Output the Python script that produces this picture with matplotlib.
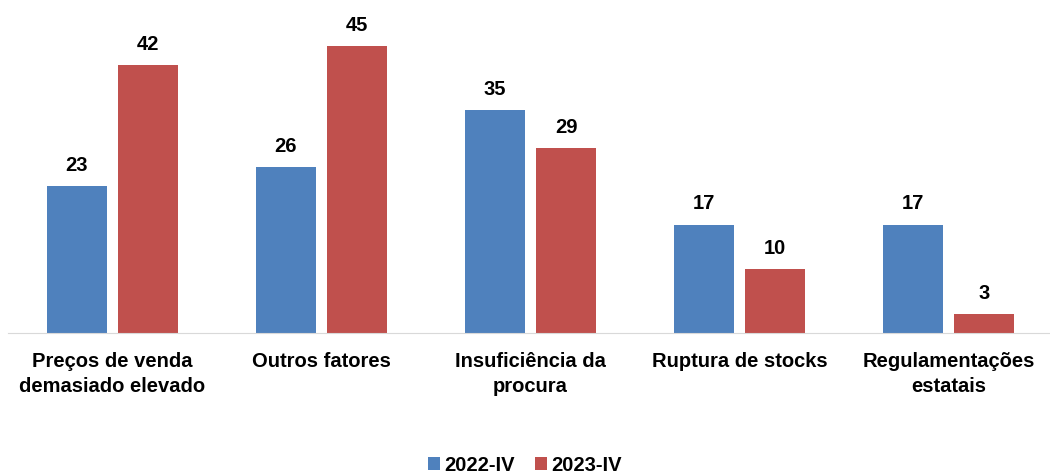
import numpy as np
import matplotlib.pyplot as plt

categories = ["Preços de venda\ndemasiado elevado", "Outros fatores",
              "Insuficiência da\nprocura", "Ruptura de stocks",
              "Regulamentações\nestatais"]
series_names = ["2022-IV", "2023-IV"]
vals_2022 = [23, 26, 35, 17, 17]
vals_2023 = [42, 45, 29, 10, 3]
colors = ["#4F81BD", "#C0504D"]

plt.rcParams['font.family'] = ['Liberation Sans', 'DejaVu Sans']
plt.rcParams['font.weight'] = 'bold'

fig = plt.figure(figsize=(10.5, 4.76), dpi=100)
ax = fig.add_axes([8/1050, 1-333/476, 1045/1050, 319/476])

x = np.arange(len(categories))
w = 0.287
off = (w + 0.053) / 2
b1 = ax.bar(x - off, vals_2022, w, color=colors[0], label=series_names[0])
b2 = ax.bar(x + off, vals_2023, w, color=colors[1], label=series_names[1])
for bars in (b1, b2):
    ax.bar_label(bars, padding=8, fontsize=14.5, fontweight='bold')

ax.set_xlim(-0.5, len(categories) - 0.5)
ax.set_ylim(0, 50)
ax.set_yticks([])
ax.set_xticks(x)
ax.set_xticklabels(categories, fontsize=14.5, fontweight='bold', linespacing=1.4)
ax.tick_params(axis='x', length=0, pad=14)
for s in ['top', 'right', 'left']:
    ax.spines[s].set_visible(False)
ax.spines['bottom'].set_color('#D9D9D9')

fig.legend(loc='lower center', bbox_to_anchor=(0.5, -0.035), ncol=2, frameon=False,
           handlelength=0.6, handleheight=0.6, handletextpad=0.2,
           columnspacing=1.0, prop={'weight': 'bold', 'size': 14.5})

fig.savefig("out.png", dpi=100)
